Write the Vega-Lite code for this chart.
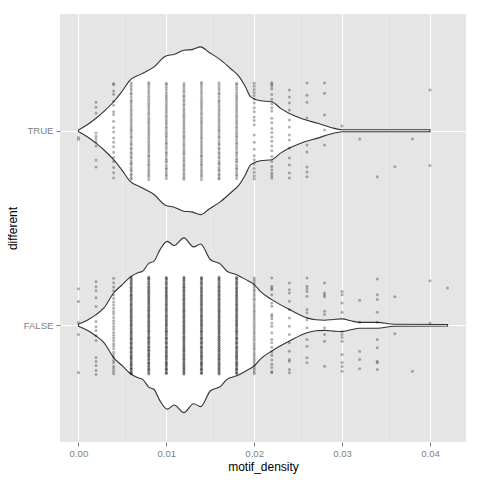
{
  "$schema": "https://vega.github.io/schema/vega-lite/v6.json",
  "width": 406,
  "height": 428,
  "autosize": {"type": "none"},
  "padding": {"left": 60, "top": 14, "right": 14, "bottom": 38},
  "background": "white",
  "config": {"view": {"fill": "#E5E5E5", "stroke": null}, "font": "Liberation Sans"},
  "datasets": {
    "violin": [
      {"g":"T","x":0,"lo":1.996,"hi":2.004},
      {"g":"T","x":0.001,"lo":1.969,"hi":2.031},
      {"g":"T","x":0.002,"lo":1.936,"hi":2.064},
      {"g":"T","x":0.003,"lo":1.897,"hi":2.103},
      {"g":"T","x":0.004,"lo":1.851,"hi":2.149},
      {"g":"T","x":0.005,"lo":1.795,"hi":2.205},
      {"g":"T","x":0.0058,"lo":1.744,"hi":2.256},
      {"g":"T","x":0.0071,"lo":1.709,"hi":2.291},
      {"g":"T","x":0.0086,"lo":1.672,"hi":2.328},
      {"g":"T","x":0.0099,"lo":1.617,"hi":2.383},
      {"g":"T","x":0.0109,"lo":1.607,"hi":2.393},
      {"g":"T","x":0.012,"lo":1.586,"hi":2.414},
      {"g":"T","x":0.0129,"lo":1.583,"hi":2.417},
      {"g":"T","x":0.0139,"lo":1.569,"hi":2.431},
      {"g":"T","x":0.0148,"lo":1.595,"hi":2.405},
      {"g":"T","x":0.0162,"lo":1.637,"hi":2.363},
      {"g":"T","x":0.0173,"lo":1.68,"hi":2.32},
      {"g":"T","x":0.0183,"lo":1.723,"hi":2.277},
      {"g":"T","x":0.019,"lo":1.774,"hi":2.226},
      {"g":"T","x":0.0196,"lo":1.826,"hi":2.174},
      {"g":"T","x":0.0207,"lo":1.846,"hi":2.154},
      {"g":"T","x":0.022,"lo":1.851,"hi":2.149},
      {"g":"T","x":0.023,"lo":1.885,"hi":2.115},
      {"g":"T","x":0.024,"lo":1.911,"hi":2.089},
      {"g":"T","x":0.0253,"lo":1.936,"hi":2.064},
      {"g":"T","x":0.0272,"lo":1.962,"hi":2.038},
      {"g":"T","x":0.0287,"lo":1.983,"hi":2.017},
      {"g":"T","x":0.03,"lo":1.995,"hi":2.005},
      {"g":"T","x":0.04,"lo":1.995,"hi":2.005},
      {"g":"F","x":0,"lo":0.995,"hi":1.005},
      {"g":"F","x":0.001,"lo":0.974,"hi":1.026},
      {"g":"F","x":0.002,"lo":0.945,"hi":1.055},
      {"g":"F","x":0.0029,"lo":0.911,"hi":1.089},
      {"g":"F","x":0.004,"lo":0.834,"hi":1.166},
      {"g":"F","x":0.005,"lo":0.791,"hi":1.209},
      {"g":"F","x":0.0059,"lo":0.752,"hi":1.248},
      {"g":"F","x":0.0067,"lo":0.731,"hi":1.269},
      {"g":"F","x":0.0073,"lo":0.722,"hi":1.278},
      {"g":"F","x":0.008,"lo":0.682,"hi":1.318},
      {"g":"F","x":0.0086,"lo":0.67,"hi":1.33},
      {"g":"F","x":0.0093,"lo":0.61,"hi":1.39},
      {"g":"F","x":0.0101,"lo":0.569,"hi":1.431},
      {"g":"F","x":0.0109,"lo":0.59,"hi":1.41},
      {"g":"F","x":0.012,"lo":0.551,"hi":1.449},
      {"g":"F","x":0.0131,"lo":0.597,"hi":1.403},
      {"g":"F","x":0.0139,"lo":0.582,"hi":1.418},
      {"g":"F","x":0.015,"lo":0.662,"hi":1.338},
      {"g":"F","x":0.0162,"lo":0.687,"hi":1.313},
      {"g":"F","x":0.0169,"lo":0.722,"hi":1.278},
      {"g":"F","x":0.018,"lo":0.74,"hi":1.26},
      {"g":"F","x":0.019,"lo":0.764,"hi":1.236},
      {"g":"F","x":0.02,"lo":0.791,"hi":1.209},
      {"g":"F","x":0.0207,"lo":0.826,"hi":1.174},
      {"g":"F","x":0.022,"lo":0.868,"hi":1.132},
      {"g":"F","x":0.024,"lo":0.919,"hi":1.081},
      {"g":"F","x":0.026,"lo":0.962,"hi":1.038},
      {"g":"F","x":0.027,"lo":0.972,"hi":1.028},
      {"g":"F","x":0.028,"lo":0.974,"hi":1.026},
      {"g":"F","x":0.029,"lo":0.97,"hi":1.03},
      {"g":"F","x":0.03,"lo":0.967,"hi":1.033},
      {"g":"F","x":0.031,"lo":0.977,"hi":1.023},
      {"g":"F","x":0.032,"lo":0.985,"hi":1.015},
      {"g":"F","x":0.034,"lo":0.985,"hi":1.015},
      {"g":"F","x":0.0359,"lo":0.995,"hi":1.005},
      {"g":"F","x":0.042,"lo":0.996,"hi":1.004}
    ],
    "pts": [
      {"g":"T","x":0,"y":[1.955,1.965]},
      {"g":"T","x":0.002,"y":[2.147,2.121,2.091,1.988,1.972,1.957,1.942,1.921,1.85,1.814]},
      {"g":"T","x":0.004,"y":[2.243,2.236,2.204,2.188,2.152,2.131,2.097,2.083,2.049,2.016,1.994,1.962,1.941,1.917,1.889,1.863,1.842,1.811,1.784,1.757]},
      {"g":"T","x":0.006,"y":[1.752,1.758,1.771,1.779,1.793,1.801,1.812,1.826,1.834,1.845,1.859,1.867,1.881,1.889,1.904,1.913,1.927,1.936,1.949,1.962,1.971,1.984,1.997,2.006,2.018,2.029,2.041,2.053,2.064,2.077,2.088,2.101,2.112,2.125,2.137,2.149,2.158,2.172,2.186,2.195,2.209,2.221,2.234,2.246]},
      {"g":"T","x":0.008,"y":[1.749,1.763,1.774,1.785,1.797,1.808,1.821,1.83,1.842,1.853,1.866,1.874,1.887,1.898,1.91,1.922,1.933,1.944,1.957,1.968,1.979,1.991,2.002,2.014,2.025,2.037,2.048,2.059,2.071,2.083,2.094,2.107,2.118,2.13,2.141,2.153,2.165,2.177,2.19,2.201,2.214,2.227,2.239,2.248]},
      {"g":"T","x":0.01,"y":[1.754,1.767,1.776,1.789,1.802,1.81,1.823,1.838,1.847,1.857,1.871,1.883,1.892,1.906,1.917,1.93,1.939,1.952,1.965,1.975,1.987,1.999,2.011,2.022,2.034,2.045,2.056,2.069,2.08,2.092,2.104,2.116,2.127,2.139,2.151,2.163,2.174,2.184,2.197,2.211,2.223,2.236,2.244]},
      {"g":"T","x":0.012,"y":[1.751,1.761,1.773,1.783,1.795,1.806,1.817,1.828,1.84,1.851,1.862,1.876,1.885,1.896,1.908,1.92,1.931,1.942,1.955,1.966,1.977,1.989,2.0,2.012,2.023,2.035,2.046,2.058,2.069,2.079,2.091,2.103,2.114,2.128,2.138,2.15,2.161,2.173,2.183,2.196,2.207,2.219,2.231,2.243]},
      {"g":"T","x":0.014,"y":[1.749,1.763,1.774,1.785,1.797,1.808,1.821,1.83,1.842,1.853,1.866,1.874,1.887,1.898,1.91,1.922,1.933,1.944,1.957,1.968,1.979,1.991,2.002,2.014,2.025,2.037,2.048,2.059,2.071,2.083,2.094,2.107,2.118,2.13,2.141,2.153,2.165,2.177,2.19,2.201,2.214,2.227,2.239,2.248]},
      {"g":"T","x":0.016,"y":[1.752,1.758,1.771,1.779,1.793,1.801,1.812,1.826,1.834,1.845,1.859,1.867,1.881,1.889,1.904,1.913,1.927,1.936,1.949,1.962,1.971,1.984,1.997,2.006,2.018,2.029,2.041,2.053,2.064,2.077,2.088,2.101,2.112,2.125,2.137,2.149,2.158,2.172,2.186,2.195,2.209,2.221,2.234,2.246]},
      {"g":"T","x":0.018,"y":[1.754,1.767,1.776,1.789,1.802,1.81,1.823,1.838,1.847,1.857,1.871,1.883,1.892,1.906,1.917,1.93,1.939,1.952,1.965,1.975,1.987,1.999,2.011,2.022,2.034,2.045,2.056,2.069,2.08,2.092,2.104,2.116,2.127,2.139,2.151,2.163,2.174,2.184,2.197,2.211,2.223,2.236,2.244]},
      {"g":"T","x":0.02,"y":[2.244,2.229,2.212,2.196,2.181,2.163,2.142,2.118,2.097,2.071,2.052,2.031,1.978,1.941,1.905,1.872,1.851,1.829,1.806,1.787,1.768,1.753]},
      {"g":"T","x":0.022,"y":[2.247,2.239,2.228,2.214,2.186,2.162,2.139,2.118,2.102,2.064,2.041,2.012,1.991,1.968,1.946,1.921,1.897,1.868,1.842,1.816,1.798,1.781,1.769,1.757]},
      {"g":"T","x":0.024,"y":[2.209,2.173,2.142,2.106,2.055,2.019,1.978,1.952,1.911,1.86,1.824,1.783,1.757]},
      {"g":"T","x":0.026,"y":[2.245,2.183,2.147,2.065,1.927,1.891,1.814,1.788,1.763]},
      {"g":"T","x":0.028,"y":[2.245,2.193,2.081,2.004,1.927]},
      {"g":"T","x":0.03,"y":[2.024]},
      {"g":"T","x":0.032,"y":[1.957]},
      {"g":"T","x":0.034,"y":[1.764]},
      {"g":"T","x":0.036,"y":[1.815]},
      {"g":"T","x":0.038,"y":[1.957]},
      {"g":"T","x":0.04,"y":[2.209,1.821]},
      {"g":"F","x":0,"y":[1.188,1.122,1.014,0.952,0.757]},
      {"g":"F","x":0.002,"y":[1.224,1.198,1.178,1.142,1.096,1.019,0.993,0.973,0.947,0.922,0.834,0.814,0.793,0.768,0.747]},
      {"g":"F","x":0.004,"y":[0.751,0.764,0.778,0.79,0.807,0.819,0.836,0.848,0.861,0.879,0.893,0.905,0.921,0.934,0.949,0.963,0.98,0.994,1.009,1.023,1.04,1.058,1.071,1.087,1.104,1.119,1.138,1.156,1.178,1.197,1.218,1.242]},
      {"g":"F","x":0.006,"y":[0.752,0.758,0.771,0.779,0.793,0.801,0.812,0.826,0.834,0.845,0.859,0.867,0.881,0.889,0.904,0.913,0.927,0.936,0.949,0.962,0.971,0.984,0.997,1.006,1.018,1.029,1.041,1.053,1.064,1.077,1.088,1.101,1.112,1.125,1.137,1.149,1.158,1.172,1.186,1.195,1.209,1.221,1.234,1.246]},
      {"g":"F","x":0.006,"y":[0.751,0.761,0.773,0.783,0.795,0.806,0.817,0.828,0.84,0.851,0.862,0.876,0.885,0.896,0.908,0.92,0.931,0.942,0.955,0.966,0.977,0.989,1.0,1.012,1.023,1.035,1.046,1.058,1.069,1.079,1.091,1.103,1.114,1.128,1.138,1.15,1.161,1.173,1.183,1.196,1.207,1.219,1.231,1.243]},
      {"g":"F","x":0.008,"y":[0.749,0.763,0.774,0.785,0.797,0.808,0.821,0.83,0.842,0.853,0.866,0.874,0.887,0.898,0.91,0.922,0.933,0.944,0.957,0.968,0.979,0.991,1.002,1.014,1.025,1.037,1.048,1.059,1.071,1.083,1.094,1.107,1.118,1.13,1.141,1.153,1.165,1.177,1.19,1.201,1.214,1.227,1.239,1.248]},
      {"g":"F","x":0.008,"y":[0.754,0.767,0.776,0.789,0.802,0.81,0.823,0.838,0.847,0.857,0.871,0.883,0.892,0.906,0.917,0.93,0.939,0.952,0.965,0.975,0.987,0.999,1.011,1.022,1.034,1.045,1.056,1.069,1.08,1.092,1.104,1.116,1.127,1.139,1.151,1.163,1.174,1.184,1.197,1.211,1.223,1.236,1.244]},
      {"g":"F","x":0.01,"y":[0.754,0.767,0.776,0.789,0.802,0.81,0.823,0.838,0.847,0.857,0.871,0.883,0.892,0.906,0.917,0.93,0.939,0.952,0.965,0.975,0.987,0.999,1.011,1.022,1.034,1.045,1.056,1.069,1.08,1.092,1.104,1.116,1.127,1.139,1.151,1.163,1.174,1.184,1.197,1.211,1.223,1.236,1.244]},
      {"g":"F","x":0.01,"y":[0.752,0.758,0.771,0.779,0.793,0.801,0.812,0.826,0.834,0.845,0.859,0.867,0.881,0.889,0.904,0.913,0.927,0.936,0.949,0.962,0.971,0.984,0.997,1.006,1.018,1.029,1.041,1.053,1.064,1.077,1.088,1.101,1.112,1.125,1.137,1.149,1.158,1.172,1.186,1.195,1.209,1.221,1.234,1.246]},
      {"g":"F","x":0.012,"y":[0.751,0.761,0.773,0.783,0.795,0.806,0.817,0.828,0.84,0.851,0.862,0.876,0.885,0.896,0.908,0.92,0.931,0.942,0.955,0.966,0.977,0.989,1.0,1.012,1.023,1.035,1.046,1.058,1.069,1.079,1.091,1.103,1.114,1.128,1.138,1.15,1.161,1.173,1.183,1.196,1.207,1.219,1.231,1.243]},
      {"g":"F","x":0.012,"y":[0.749,0.763,0.774,0.785,0.797,0.808,0.821,0.83,0.842,0.853,0.866,0.874,0.887,0.898,0.91,0.922,0.933,0.944,0.957,0.968,0.979,0.991,1.002,1.014,1.025,1.037,1.048,1.059,1.071,1.083,1.094,1.107,1.118,1.13,1.141,1.153,1.165,1.177,1.19,1.201,1.214,1.227,1.239,1.248]},
      {"g":"F","x":0.014,"y":[0.752,0.758,0.771,0.779,0.793,0.801,0.812,0.826,0.834,0.845,0.859,0.867,0.881,0.889,0.904,0.913,0.927,0.936,0.949,0.962,0.971,0.984,0.997,1.006,1.018,1.029,1.041,1.053,1.064,1.077,1.088,1.101,1.112,1.125,1.137,1.149,1.158,1.172,1.186,1.195,1.209,1.221,1.234,1.246]},
      {"g":"F","x":0.014,"y":[0.754,0.767,0.776,0.789,0.802,0.81,0.823,0.838,0.847,0.857,0.871,0.883,0.892,0.906,0.917,0.93,0.939,0.952,0.965,0.975,0.987,0.999,1.011,1.022,1.034,1.045,1.056,1.069,1.08,1.092,1.104,1.116,1.127,1.139,1.151,1.163,1.174,1.184,1.197,1.211,1.223,1.236,1.244]},
      {"g":"F","x":0.016,"y":[0.749,0.763,0.774,0.785,0.797,0.808,0.821,0.83,0.842,0.853,0.866,0.874,0.887,0.898,0.91,0.922,0.933,0.944,0.957,0.968,0.979,0.991,1.002,1.014,1.025,1.037,1.048,1.059,1.071,1.083,1.094,1.107,1.118,1.13,1.141,1.153,1.165,1.177,1.19,1.201,1.214,1.227,1.239,1.248]},
      {"g":"F","x":0.016,"y":[0.751,0.761,0.773,0.783,0.795,0.806,0.817,0.828,0.84,0.851,0.862,0.876,0.885,0.896,0.908,0.92,0.931,0.942,0.955,0.966,0.977,0.989,1.0,1.012,1.023,1.035,1.046,1.058,1.069,1.079,1.091,1.103,1.114,1.128,1.138,1.15,1.161,1.173,1.183,1.196,1.207,1.219,1.231,1.243]},
      {"g":"F","x":0.018,"y":[0.754,0.767,0.776,0.789,0.802,0.81,0.823,0.838,0.847,0.857,0.871,0.883,0.892,0.906,0.917,0.93,0.939,0.952,0.965,0.975,0.987,0.999,1.011,1.022,1.034,1.045,1.056,1.069,1.08,1.092,1.104,1.116,1.127,1.139,1.151,1.163,1.174,1.184,1.197,1.211,1.223,1.236,1.244]},
      {"g":"F","x":0.018,"y":[0.752,0.758,0.771,0.779,0.793,0.801,0.812,0.826,0.834,0.845,0.859,0.867,0.881,0.889,0.904,0.913,0.927,0.936,0.949,0.962,0.971,0.984,0.997,1.006,1.018,1.029,1.041,1.053,1.064,1.077,1.088,1.101,1.112,1.125,1.137,1.149,1.158,1.172,1.186,1.195,1.209,1.221,1.234,1.246]},
      {"g":"F","x":0.02,"y":[0.751,0.761,0.773,0.783,0.795,0.806,0.817,0.828,0.84,0.851,0.862,0.876,0.885,0.896,0.908,0.92,0.931,0.942,0.955,0.966,0.977,0.989,1.0,1.012,1.023,1.035,1.046,1.058,1.069,1.079,1.091,1.103,1.114,1.128,1.138,1.15,1.161,1.173,1.183,1.196,1.207,1.219,1.231,1.243]},
      {"g":"F","x":0.022,"y":[1.243,1.2,1.19,1.183,1.157,1.115,1.098,1.055,1.046,1.033,1.012,0.995,0.962,0.927,0.91,0.887,0.862,0.846,0.822,0.8,0.783,0.763,0.756]},
      {"g":"F","x":0.024,"y":[1.217,1.183,1.166,1.123,1.081,1.038,0.995,0.952,0.91,0.867,0.824,0.815,0.773,0.756]},
      {"g":"F","x":0.026,"y":[1.243,1.2,1.188,1.174,1.149,1.081,1.065,1.029,0.987,0.927,0.892,0.833,0.807]},
      {"g":"F","x":0.028,"y":[1.217,1.166,1.155,1.146,1.072,1.055,0.987,0.952,0.918,0.79]},
      {"g":"F","x":0.03,"y":[1.174,1.157,1.115,1.067,0.969,0.952,0.937,0.918,0.85,0.809,0.788,0.764]},
      {"g":"F","x":0.032,"y":[1.128,1.015,0.867,0.824,0.776]},
      {"g":"F","x":0.034,"y":[1.238,1.157,1.132,1.067,1.015,0.927,0.884,0.815,0.807,0.773]},
      {"g":"F","x":0.036,"y":[1.146,0.956]},
      {"g":"F","x":0.038,"y":[0.764]},
      {"g":"F","x":0.04,"y":[1.229,1.012]},
      {"g":"F","x":0.042,"y":[1.192]}
    ]
  },
  "layer": [
    {
      "data": {"name": "violin"},
      "mark": {"type": "area", "orient": "vertical", "interpolate": "monotone", "fill": "white", "stroke": "#333333", "strokeWidth": 1.1},
      "encoding": {
        "x": {
          "field": "x", "type": "quantitative",
          "scale": {"domain": [-0.0021, 0.0441], "nice": false, "zero": false},
          "axis": {"orient": "top", "values": [0.005, 0.015, 0.025, 0.035], "grid": true, "gridColor": "#F2F2F2", "gridWidth": 0.5, "labels": false, "ticks": false, "domain": false, "title": null, "zindex": 0}
        },
        "y": {
          "field": "lo", "type": "quantitative",
          "scale": {"domain": [0.4, 2.6], "nice": false, "zero": false},
          "axis": {"values": [1, 2], "labelExpr": "datum.value == 2 ? 'TRUE' : 'FALSE'", "grid": true, "gridColor": "white", "gridWidth": 1, "domain": false, "tickColor": "#7F7F7F", "tickSize": 4, "labelColor": "#7F7F7F", "labelFontSize": 9.6, "labelPadding": 3, "title": "different", "titleFontSize": 12, "titleFontWeight": "normal", "titleColor": "black", "titleX": -48, "titleY": 214, "titleBaseline": "middle", "zindex": 0}
        },
        "y2": {"field": "hi"},
        "detail": {"field": "g"}
      }
    },
    {
      "data": {"name": "pts"},
      "transform": [{"flatten": ["y"]}],
      "mark": {"type": "point", "shape": "circle", "filled": true, "color": "black", "opacity": 0.3, "size": 9},
      "encoding": {
        "x": {
          "field": "x", "type": "quantitative",
          "axis": {"orient": "bottom", "values": [0, 0.01, 0.02, 0.03, 0.04], "format": ".2f", "grid": true, "gridColor": "white", "gridWidth": 1, "domain": false, "tickColor": "#7F7F7F", "tickSize": 4, "labelColor": "#7F7F7F", "labelFontSize": 9.6, "labelPadding": 2, "title": "motif_density", "titleFontSize": 12, "titleFontWeight": "normal", "titleColor": "black", "titleY": 28, "titleBaseline": "alphabetic", "zindex": 0}
        },
        "y": {
          "field": "y", "type": "quantitative",
          "axis": {"values": [1, 2], "labelExpr": "datum.value == 2 ? 'TRUE' : 'FALSE'", "grid": true, "gridColor": "white", "gridWidth": 1, "domain": false, "tickColor": "#7F7F7F", "tickSize": 4, "labelColor": "#7F7F7F", "labelFontSize": 9.6, "labelPadding": 3, "title": "different", "titleFontSize": 12, "titleFontWeight": "normal", "titleColor": "black", "titleX": -48, "titleY": 214, "titleBaseline": "middle", "zindex": 0}
        }
      }
    }
  ],
  "resolve": {"axis": {"x": "independent"}}
}
